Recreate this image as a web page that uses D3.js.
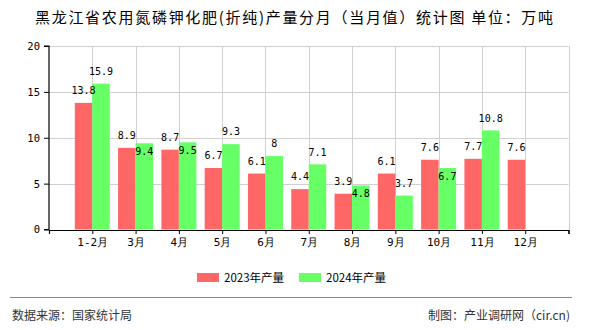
<!DOCTYPE html>
<html><head><meta charset="utf-8">
<script src="https://cdn.jsdelivr.net/npm/d3@7"></script>
<style>
html,body{margin:0;padding:0;background:#fff;}
svg{display:block;}
</style>
</head><body>
<svg id="chart" width="590" height="330"></svg>
<script>
const categories = ["1-2月","3月","4月","5月","6月","7月","8月","9月","10月","11月","12月"];
const series2023 = [13.8, 8.9, 8.7, 6.7, 6.1, 4.4, 3.9, 6.1, 7.6, 7.7, 7.6];
const series2024 = [15.9, 9.4, 9.5, 9.3, 8, 7.1, 4.8, 3.7, 6.7, 10.8, null];
const seriesNames = ["2023年产量", "2024年产量"];
const yTicks = [0, 5, 10, 15, 20];
const titleText = "黑龙江省农用氮磷钾化肥(折纯)产量分月（当月值）统计图 单位：万吨";
const sourceText = "数据来源：国家统计局";
const makerText = "制图：产业调研网（cir.cn)";

const colors = ["#ff6666", "#66ff66"];
const cjk = "'Noto Sans CJK SC', 'Noto Sans', sans-serif";
const mono = "'DejaVu Sans Mono', 'Liberation Mono', monospace";

const svg = d3.select("#chart");
const pL = 49, pR = 568.5, pT = 46, pB = 229.5;

const x = d3.scaleLinear().domain([0, categories.length + 1]).range([pL, pR]);
const y = d3.scaleLinear().domain([0, 20]).range([pB, pT]);
const bw = 17.5;

// title
svg.append("text").attr("x", 294).attr("y", 23)
  .attr("text-anchor", "middle").attr("font-family", cjk).attr("font-size", 15)
  .attr("textLength", 518).attr("lengthAdjust", "spacing")
  .attr("fill", "#000").text(titleText);

// grid
const grid = svg.append("g").attr("stroke", "#d0d0d0").attr("stroke-width", 1);
yTicks.filter(d => d > 0).forEach(v => {
  const yy = Math.round(y(v)) + 0.5;
  grid.append("line").attr("x1", pL).attr("x2", pR).attr("y1", yy).attr("y2", yy);
});
d3.range(1, categories.length + 2).forEach(i => {
  const xx = Math.round(x(i)) + 0.5;
  grid.append("line").attr("x1", xx).attr("x2", xx).attr("y1", pT).attr("y2", pB);
});

// bars
const data = categories.map((c, i) => ({c, i, a: series2023[i], b: series2024[i]}));
const gb = svg.append("g");
data.forEach(d => {
  const xc = x(d.i + 1);
  if (d.a != null) gb.append("rect").attr("x", xc - bw).attr("width", bw)
      .attr("y", y(d.a)).attr("height", y(0) - y(d.a)).attr("fill", colors[0]);
  if (d.b != null) gb.append("rect").attr("x", xc).attr("width", bw)
      .attr("y", y(d.b)).attr("height", y(0) - y(d.b)).attr("fill", colors[1]);
});

// axes
const yAxis = svg.append("g").attr("transform", `translate(${pL},0)`)
  .call(d3.axisLeft(y).tickValues(yTicks).tickSize(5).tickPadding(4).tickFormat(d3.format("d")));
const xAxis = svg.append("g").attr("transform", `translate(0,${Math.round(y(0))})`)
  .call(d3.axisBottom(x).tickValues(d3.range(0, categories.length + 2)).tickSize(4).tickPadding(4)
    .tickFormat(i => (i >= 1 && i <= categories.length) ? categories[i - 1] : ""));
[yAxis, xAxis].forEach(g => {
  g.selectAll("path,line").attr("stroke", "#000");
  g.select(".domain").attr("stroke-width", 1.2);
});
yAxis.selectAll("text").attr("font-family", mono).attr("font-size", 10.5).attr("fill", "#000");
xAxis.selectAll("text").attr("font-family", mono).attr("font-size", 11).attr("fill", "#000");
yAxis.select(".domain").attr("d", `M-5,${pT}H0V${pB}H-5`);

// value labels with simple collision avoidance
const gl = svg.append("g").attr("font-family", mono).attr("font-size", 10)
  .attr("text-anchor", "middle").attr("fill", "#000");
data.forEach(d => {
  const xc = x(d.i + 1);
  let ca = null;
  if (d.a != null) {
    ca = y(d.a) - 12.3;
    gl.append("text").attr("x", xc - bw / 2).attr("y", ca).attr("dy", "0.36em").text(d.a);
  }
  if (d.b != null) {
    let cb = y(d.b) - 12.3;
    if (ca != null && Math.abs(ca - cb) < 12) cb = y(d.b) + 8;
    gl.append("text").attr("x", xc + bw / 2).attr("y", cb).attr("dy", "0.36em").text(d.b);
  }
});

// legend
const legX = [197, 299];
seriesNames.forEach((n, i) => {
  svg.append("rect").attr("x", legX[i]).attr("y", 273).attr("width", 22).attr("height", 9).attr("fill", colors[i]);
  svg.append("text").attr("x", legX[i] + 27).attr("y", 282).attr("font-family", cjk)
    .attr("font-size", 11.5).attr("fill", "#000").text(n);
});

// footer
svg.append("line").attr("x1", 10).attr("x2", 572).attr("y1", 297.5).attr("y2", 297.5)
  .attr("stroke", "#888").attr("stroke-width", 1);
svg.append("text").attr("x", 12).attr("y", 320).attr("font-family", cjk).attr("font-size", 12)
  .attr("fill", "#333").text(sourceText);
svg.append("text").attr("x", 570).attr("y", 320).attr("text-anchor", "end").attr("font-family", cjk)
  .attr("font-size", 12).attr("fill", "#333").text(makerText);
</script>
</body></html>
